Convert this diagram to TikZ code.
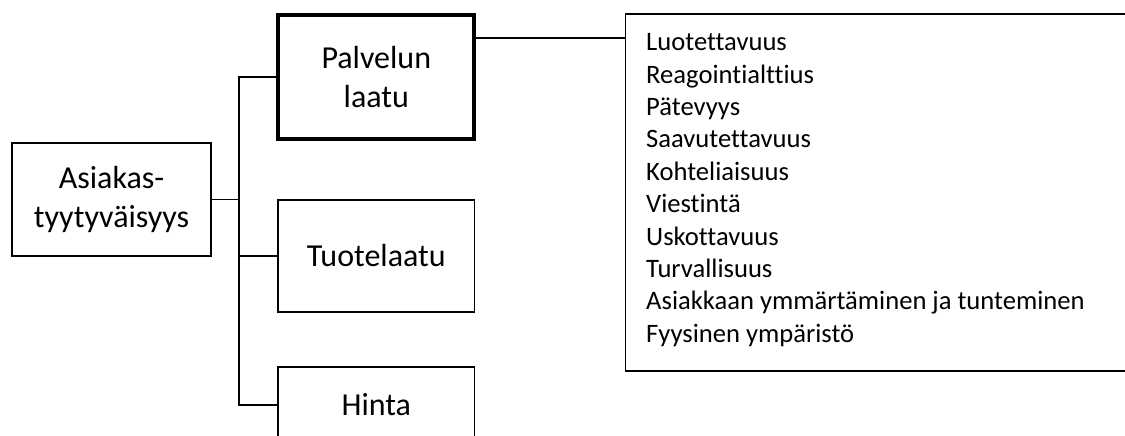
\documentclass[tikz,border=0pt]{standalone}
\usepackage{fontspec}
\setmainfont{Carlito}[Ligatures=NoCommon]
\begin{document}
\begin{tikzpicture}[x=1pt,y=-1pt,
  box/.style={draw, line width=1.6pt, inner sep=0pt, outer sep=0pt,
    align=center, font=\fontsize{32}{38.5}\selectfont},
  keybox/.style={box, line width=4pt},
  link/.style={line width=1.6pt},
  item/.style={anchor=base west, inner sep=0pt, font=\fontsize{26.6}{32}\selectfont}]
\useasboundingbox (0,0) rectangle (1125,436);
\clip (0,0) rectangle (1125,436);

% main concept
\node[box, minimum width=199pt, minimum height=113.5pt] (asiakas) at (111.5,199.5)
  {Asiakas-\\tyytyväisyys};

% three factors
\node[keybox, minimum width=196pt, minimum height=123pt] (palvelu) at (376.3,77)
  {Palvelun\\laatu};
\node[box, minimum width=196.5pt, minimum height=112pt] (tuote) at (376.3,256)
  {Tuotelaatu};
\node[box, minimum width=196.5pt, minimum height=76pt] (hinta) at (376.3,405)
  {Hinta};

% dimensions of service quality
\node[draw, line width=1.6pt, inner sep=0pt, outer sep=0pt,
  minimum width=530pt, minimum height=357pt] (lista) at (890.5,192.5) {};
\foreach \t [count=\i from 0] in {Luotettavuus, Reagointialttius, Pätevyys,
    Saavutettavuus, Kohteliaisuus, Viestintä, Uskottavuus, Turvallisuus,
    Asiakkaan ymmärtäminen ja tunteminen, Fyysinen ympäristö}
  \node[item] (item\i) at (646,50.7+32.4*\i) {\t};

% tree connectors
\coordinate (jn) at (asiakas.east -| 239,0);
\draw[link] (asiakas.east) -- (jn);
\draw[link] (palvelu.west) -| (jn) |- (hinta.west);
\draw[link] (tuote.west) -| (jn);
\draw[link] (palvelu.east |- 0,38) -- (lista.west |- 0,38);
\end{tikzpicture}
\end{document}
